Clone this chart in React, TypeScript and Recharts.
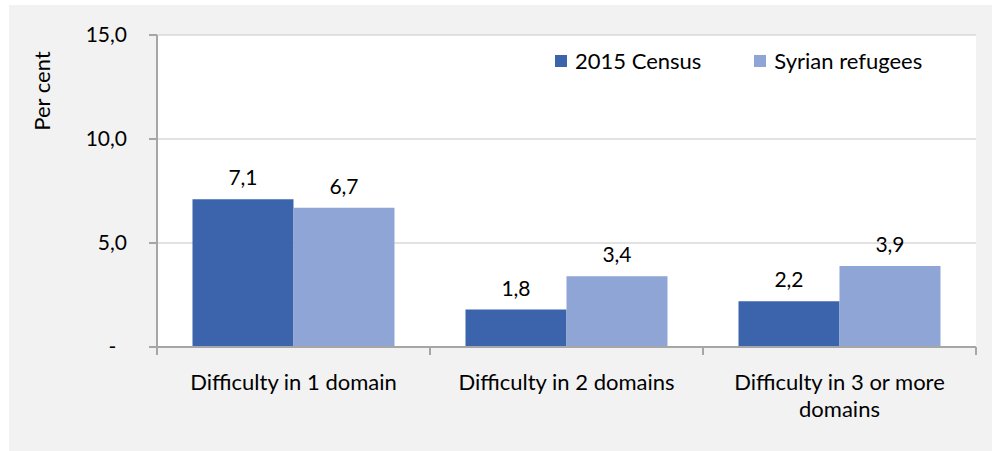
import React from 'react';
import { BarChart, Bar, XAxis, YAxis, CartesianGrid, Legend, LabelList } from 'recharts';

const categories = ['Difficulty in 1 domain', 'Difficulty in 2 domains', 'Difficulty in 3 or more domains'];
const census2015 = [7.1, 1.8, 2.2];
const syrianRefugees = [6.7, 3.4, 3.9];
const yTicks = [0, 5, 10, 15];
const seriesNames = ['2015 Census', 'Syrian refugees'];
const seriesColors = ['#3c64ac', '#8fa5d5'];

const data = categories.map((c, i) => ({ name: c, census: census2015[i], refugees: syrianRefugees[i] }));

const FONT = 'Lato, sans-serif';
const FS = 22;
const NFS = 21;
const AXIS = '#a6a6a6';

const fmt = (v: number) => (v === 0 ? '-\u00a0\u00a0' : v.toFixed(1).replace('.', ','));
const fmtLabel = (v: any) => Number(v).toFixed(1).replace('.', ',');

const wrap = (s: string, max: number) => {
  const words = s.split(' ');
  const lines: string[] = [];
  let cur = '';
  words.forEach((w) => {
    const next = cur ? cur + ' ' + w : w;
    if (next.length > max && cur) {
      lines.push(cur);
      cur = w;
    } else {
      cur = next;
    }
  });
  if (cur) lines.push(cur);
  return lines;
};

const XTick = (props: any) => {
  const { x, y, payload, index, visibleTicksCount } = props;
  const half = payload && payload.offset ? payload.offset : 0;
  const lines = wrap(String(payload.value), 23);
  const isLast = index === (visibleTicksCount ?? categories.length) - 1;
  return (
    <g>
      <line x1={x - half} x2={x - half} y1={y - 10} y2={y - 2} stroke={AXIS} strokeWidth={2} />
      {isLast && <line x1={x + half} x2={x + half} y1={y - 10} y2={y - 2} stroke={AXIS} strokeWidth={2} />}
      <text x={x} y={y + 33} textAnchor="middle" fontFamily={FONT} fontSize={FS} fill="#000">
        {lines.map((l, i) => (
          <tspan key={i} x={x} dy={i === 0 ? 0 : 27}>
            {l}
          </tspan>
        ))}
      </text>
    </g>
  );
};

const YLabel = (props: any) => {
  const vb = props.viewBox || { x: 0, y: 0 };
  const x = vb.x + 41;
  const y = vb.y + 56;
  return (
    <text x={x} y={y} transform={`rotate(-90, ${x}, ${y})`} textAnchor="middle" fontFamily={FONT} fontSize={FS} fill="#000">
      Per cent
    </text>
  );
};

const LegendContent = () => (
  <div style={{ display: 'flex', alignItems: 'center', fontFamily: FONT, fontSize: FS, color: '#000', whiteSpace: 'nowrap' }}>
    {seriesNames.map((n, i) => (
      <div key={n} style={{ display: 'flex', alignItems: 'center', marginRight: i === 0 ? 53 : 0 }}>
        <span style={{ display: 'inline-block', width: 12, height: 12, background: seriesColors[i], marginRight: 8 }} />
        <span>{n}</span>
      </div>
    ))}
  </div>
);

export default function App() {
  return (
    <div style={{ position: 'absolute', left: 9, top: 5, width: 983, height: 446, background: '#f2f2f2' }}>
      <BarChart
        width={983}
        height={446}
        data={data}
        margin={{ top: 30, right: 16, bottom: 0, left: 0 }}
        barCategoryGap="13%"
        barGap={0}
      >
        <CartesianGrid vertical={false} horizontal={true} stroke="#d9d9d9" strokeWidth={1.5} fill="#ffffff" />
        <XAxis
          dataKey="name"
          height={104}
          interval={0}
          tick={<XTick />}
          tickSize={8}
          tickLine={false}
          axisLine={{ stroke: AXIS, strokeWidth: 2 }}
        />
        <YAxis
          width={148}
          domain={[0, 15]}
          ticks={yTicks}
          tickFormatter={fmt}
          tickSize={8}
          tickMargin={22}
          axisLine={{ stroke: AXIS, strokeWidth: 2 }}
          tickLine={{ stroke: AXIS, strokeWidth: 2 }}
          tick={{ fontFamily: FONT, fontSize: NFS, fill: '#000' }}
          label={<YLabel />}
        />
        <Legend
          layout="horizontal"
          verticalAlign="middle"
          align="center"
          content={<LegendContent />}
          wrapperStyle={{ top: 42, left: 546, width: 'auto', height: 'auto' }}
        />
        <Bar dataKey="census" name={seriesNames[0]} fill={seriesColors[0]} isAnimationActive={false}>
          <LabelList dataKey="census" position="top" offset={14} formatter={fmtLabel} fontFamily={FONT} fontSize={NFS} fill="#000" />
        </Bar>
        <Bar dataKey="refugees" name={seriesNames[1]} fill={seriesColors[1]} isAnimationActive={false}>
          <LabelList dataKey="refugees" position="top" offset={14} formatter={fmtLabel} fontFamily={FONT} fontSize={NFS} fill="#000" />
        </Bar>
      </BarChart>
    </div>
  );
}
